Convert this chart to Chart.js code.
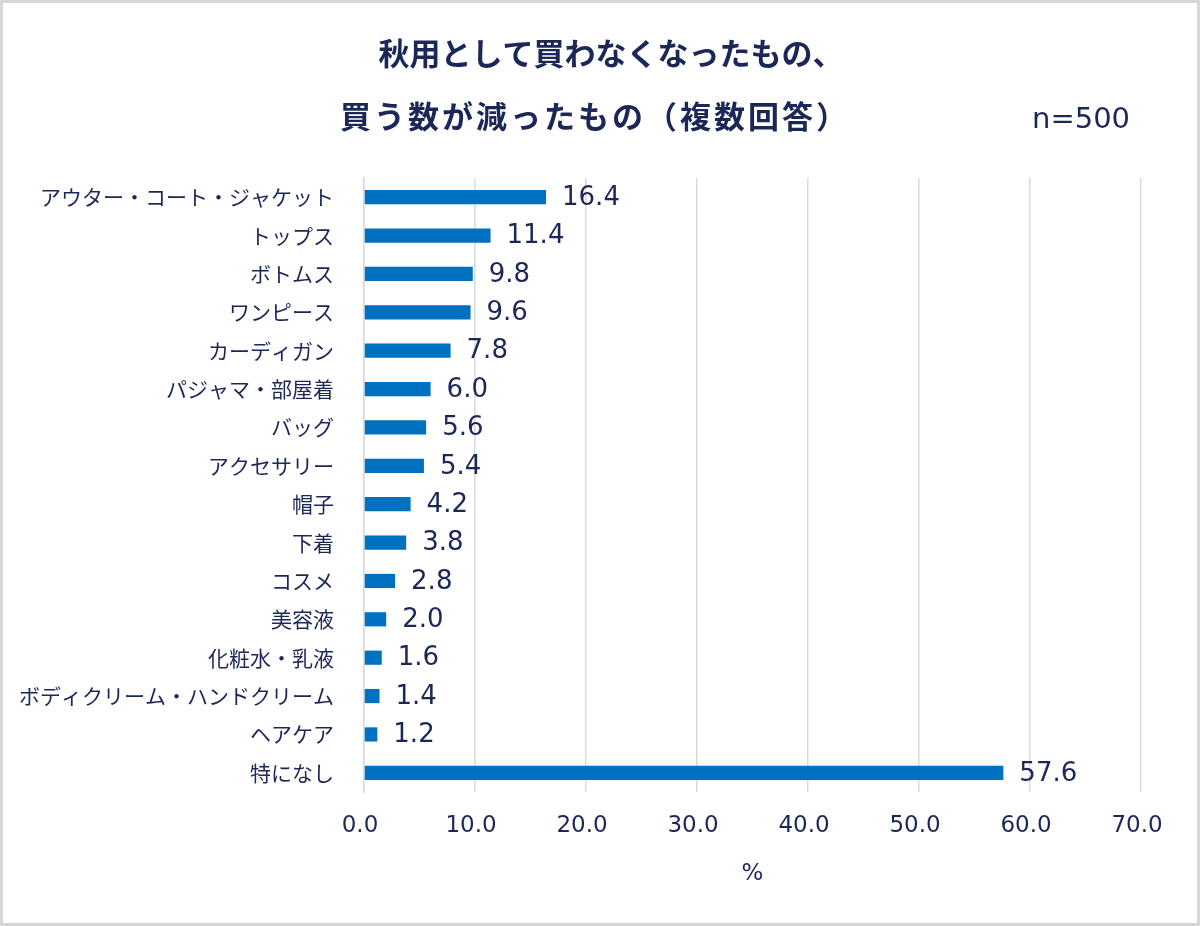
<!DOCTYPE html>
<html>
<head>
<meta charset="utf-8">
<script src="https://cdn.jsdelivr.net/npm/chart.js@4"></script>
<style>
  html, body { margin: 0; padding: 0; background: #fff; }
  #wrap { position: relative; width: 1200px; height: 926px; box-sizing: border-box; border: 3px solid #d6d6d6; }
  canvas { display: block; }
</style>
</head>
<body>
<div id="wrap"><canvas id="chart" width="1194" height="920"></canvas></div>
<script>
const categories = ['アウター・コート・ジャケット', 'トップス', 'ボトムス', 'ワンピース', 'カーディガン', 'パジャマ・部屋着', 'バッグ', 'アクセサリー', '帽子', '下着', 'コスメ', '美容液', '化粧水・乳液', 'ボディクリーム・ハンドクリーム', 'ヘアケア', '特になし'];
const values = [16.4, 11.4, 9.8, 9.6, 7.8, 6.0, 5.6, 5.4, 4.2, 3.8, 2.8, 2.0, 1.6, 1.4, 1.2, 57.6];
const titleLines = ['秋用として買わなくなったもの、', '買う数が減ったもの（複数回答）'];
const sampleNote = 'n=500';
const axisTitle = '%';

const ink = '#1b2757';
const jp = '"Noto Sans CJK JP", "Noto Sans", sans-serif';
const digits = '"DejaVu Sans", "Noto Sans", sans-serif';

const headerPlugin = {
  id: 'header',
  afterDraw(chart) {
    const ctx = chart.ctx;
    ctx.save();
    ctx.fillStyle = ink;
    ctx.textBaseline = 'middle';
    ctx.textAlign = 'center';
    ctx.font = `bold 31px ${jp}`;
    ctx.fillText(titleLines[0], 608, 50);
    ctx.letterSpacing = '3px';
    ctx.fillText(titleLines[1], 592, 113);
    ctx.letterSpacing = '0px';
    ctx.textAlign = 'left';
    ctx.font = `29px ${digits}`;
    ctx.fillText(sampleNote, 1029, 117);
    ctx.restore();
  }
};

const valueLabels = {
  id: 'valueLabels',
  afterDatasetsDraw(chart) {
    const ctx = chart.ctx;
    const meta = chart.getDatasetMeta(0);
    ctx.save();
    ctx.fillStyle = ink;
    ctx.font = `26px ${digits}`;
    ctx.textBaseline = 'middle';
    ctx.textAlign = 'left';
    meta.data.forEach((bar, i) => {
      ctx.fillText(values[i].toFixed(1), bar.x + 16, bar.y + 1);
    });
    ctx.restore();
  }
};

new Chart(document.getElementById('chart'), {
  type: 'bar',
  data: {
    labels: categories,
    datasets: [{
      data: values,
      backgroundColor: '#0070c0',
      categoryPercentage: 0.37,
      barPercentage: 1
    }]
  },
  options: {
    indexAxis: 'y',
    responsive: false,
    animation: false,
    layout: { padding: { top: 175, left: 10, right: 56, bottom: 31 } },
    plugins: {
      legend: { display: false },
      tooltip: { enabled: false }
    },
    scales: {
      x: {
        min: 0,
        max: 70,
        ticks: {
          stepSize: 10,
          color: ink,
          padding: 20,
          labelOffset: -4,
          font: { family: digits, size: 23 },
          callback: v => Number(v).toFixed(1)
        },
        grid: { color: '#dadada', lineWidth: 1.5, drawTicks: false },
        border: { display: false },
        title: { display: true, text: axisTitle, color: ink, font: { family: digits, size: 23 }, padding: { top: 8 } },
        afterFit: s => { s.height = 100; }
      },
      y: {
        ticks: { color: ink, padding: 30, font: { family: jp, size: 21 } },
        grid: { display: false, drawTicks: false },
        border: { display: true, color: '#dadada', width: 1.5 },
        afterFit: s => { s.width = 351; }
      }
    }
  },
  plugins: [headerPlugin, valueLabels]
});
</script>
</body>
</html>
